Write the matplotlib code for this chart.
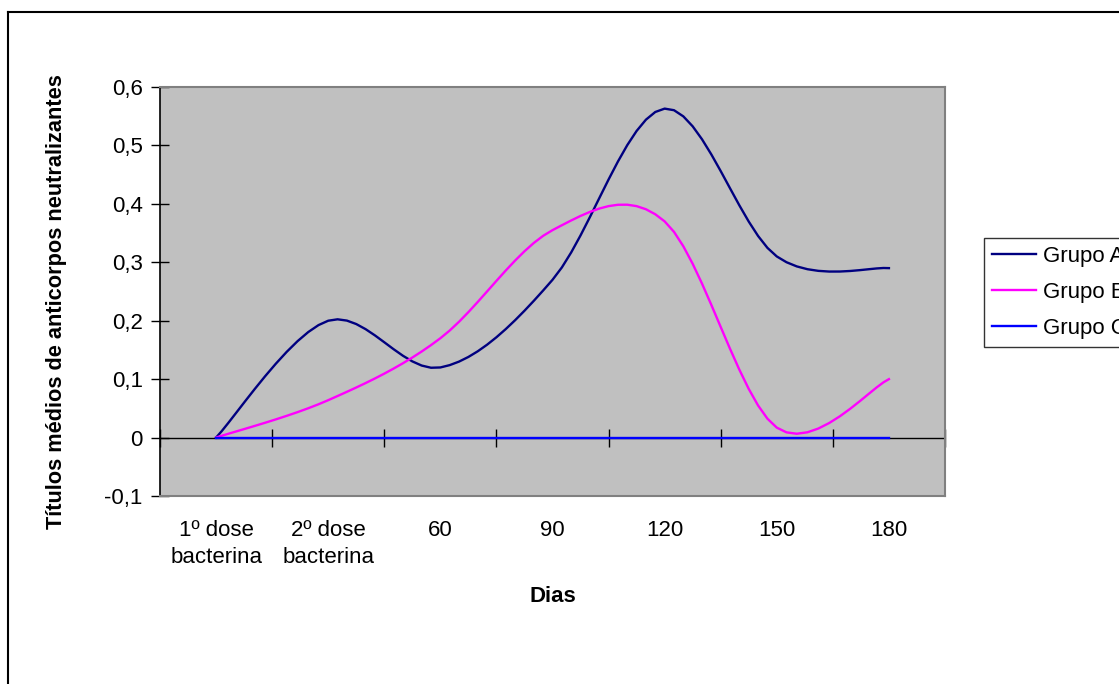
import numpy as np
import matplotlib
matplotlib.use("Agg")
import matplotlib.pyplot as plt
from matplotlib.lines import Line2D

plt.rcParams["font.family"] = ["Liberation Sans", "DejaVu Sans"]

categorias = ["1º dose\nbacterina", "2º dose\nbacterina", "60", "90", "120", "150", "180"]
grupo_a = [0.0, 0.20, 0.12, 0.27, 0.563, 0.31, 0.29]
grupo_b = [0.0, 0.064, 0.17, 0.355, 0.37, 0.017, 0.10]
grupo_c = [0.0, 0.0, 0.0, 0.0, 0.0, 0.0, 0.0]

series = [("Grupo A", grupo_a, "#000080"),
          ("Grupo B", grupo_b, "#FF00FF"),
          ("Grupo C", grupo_c, "#0000FF")]


def suavizar(x, y, n=12):
    # Catmull-Rom spline, same look as a spreadsheet "smoothed line"
    p = np.column_stack([x, y]).astype(float)
    p = np.vstack([p[0], p, p[-1]])
    out = []
    t = np.linspace(0, 1, n, endpoint=False)[:, None]
    for i in range(1, len(p) - 2):
        p0, p1, p2, p3 = p[i - 1], p[i], p[i + 1], p[i + 2]
        c1 = p1 + (p2 - p0) / 6
        c2 = p2 - (p3 - p1) / 6
        seg = ((1 - t) ** 3) * p1 + 3 * ((1 - t) ** 2) * t * c1 \
            + 3 * (1 - t) * t ** 2 * c2 + t ** 3 * p2
        out.append(seg)
    out.append(p[-2][None, :])
    out = np.vstack(out)
    return out[:, 0], out[:, 1]


fig = plt.figure(figsize=(11.19, 6.84), dpi=100)
ax = fig.add_axes([160 / 1119, 1 - 496 / 684, 785 / 1119, 409 / 684])
ax.set_facecolor("#C0C0C0")

x = np.arange(len(categorias))
ax.set_xlim(-0.5, len(categorias) - 0.5)
ax.set_ylim(-0.1, 0.6)

# zero line with category boundary ticks
ax.axhline(0, color="black", lw=1.0, zorder=2)
zero_pos = (0 - (-0.1)) / 0.7
sec = ax.secondary_xaxis(zero_pos)
sec.spines["bottom"].set_visible(False)
sec.set_xticks(np.arange(len(categorias) + 1) - 0.5)
sec.tick_params(direction="inout", length=13, width=1, color="black", labelbottom=False)

for nome, vals, cor in series:
    xs, ys = suavizar(x, vals)
    ax.plot(xs, ys, color=cor, lw=1.7, label=nome, zorder=3)

for s in ["top", "right", "bottom"]:
    ax.spines[s].set_color("#808080")
    ax.spines[s].set_linewidth(1.5)
ax.spines["left"].set_color("black")
ax.spines["left"].set_linewidth(1.2)

ax.set_xticks(x)
ax.set_xticklabels(categorias, fontsize=16, linespacing=1.38)
ax.tick_params(axis="x", length=0, pad=17)

ax.set_yticks(np.arange(-0.1, 0.61, 0.1))
ax.set_yticklabels(["-0,1", "0", "0,1", "0,2", "0,3", "0,4", "0,5", "0,6"], fontsize=16)
ax.tick_params(axis="y", direction="inout", length=13, width=1, pad=6)

ax.set_xlabel("Dias", fontsize=16, fontweight="bold")
ax.xaxis.set_label_coords(0.5, (496 - 586) / 409)
ax.set_ylabel("Títulos médios de anticorpos neutralizantes", fontsize=15.7,
              fontweight="bold", va="center")
ax.yaxis.set_label_coords((57 - 160) / 785, (496 - 302) / 409)

handles = [Line2D([], [], color=c, lw=1.7) for _, _, c in series]
leg = fig.legend(handles, [n for n, _, _ in series], loc="upper left",
                 bbox_to_anchor=(984 / 1119, 1 - 238 / 684), fontsize=16,
                 frameon=True, fancybox=False, borderpad=0.35, labelspacing=0.68,
                 handlelength=2.0, handletextpad=0.3, borderaxespad=0)
leg.get_frame().set_edgecolor("black")
leg.get_frame().set_linewidth(1.0)

# outer chart border
fig.add_artist(Line2D([8 / 1119, 8 / 1119], [0, 1 - 12 / 684], color="black", lw=1.5,
                      transform=fig.transFigure))
fig.add_artist(Line2D([8 / 1119, 1], [1 - 12 / 684, 1 - 12 / 684], color="black", lw=1.5,
                      transform=fig.transFigure))

fig.savefig("out.png", dpi=100)
